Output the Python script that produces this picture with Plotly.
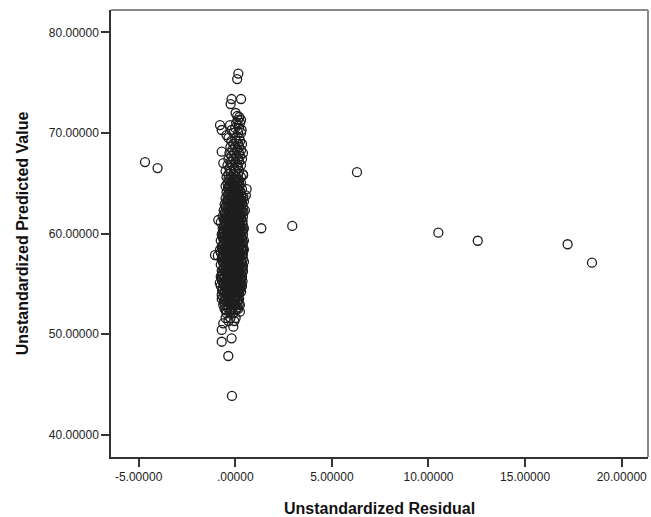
import plotly.graph_objects as go

# Points outside the main vertical band (residual, predicted)
outlier_residual = [-4.67, -4.02, 1.35, 2.95, 6.30, 10.51, 12.55, 17.20, 18.46,
                    -0.17, -0.36, 0.10, 0.16,
                    -0.70, -0.62, 0.41, 0.59, -0.88, -1.05, -0.79, 0.41]
outlier_predicted = [67.10, 66.50, 60.52, 60.75, 66.10, 60.08, 59.28, 58.93, 57.10,
                     43.85, 47.82, 75.35, 75.90,
                     68.13, 67.00, 65.80, 64.42, 61.34, 57.86, 58.36, 58.36]

# Main band: predicted value level -> residuals read at that level
band_levels = [49.24, 49.58, 50.41, 50.74, 51.07, 51.3, 51.6, 52.07, 52.23, 52.5,
               52.9, 53.2, 53.5, 53.89, 54.2, 54.5, 54.8, 55.1, 55.4, 55.7,
               56.0, 56.3, 56.6, 56.9, 57.2, 57.5, 57.8, 58.1, 58.4, 58.7,
               59.0, 59.3, 59.6, 59.9, 60.2, 60.5, 60.8, 61.1, 61.4, 61.7,
               62.0, 62.3, 62.6, 62.9, 63.2, 63.5, 63.8, 64.1, 64.4, 64.7,
               65.0, 65.3, 65.6, 65.9, 66.2, 66.5, 66.8, 67.1, 67.4, 67.7,
               68.0, 68.3, 68.6, 68.9, 69.2, 69.5, 69.79, 70.0, 70.29, 70.5,
               70.78, 71.0, 71.3, 71.58, 71.68, 71.98, 72.87, 73.37]
band_residuals = [
    [-0.70], [-0.19], [-0.70], [-0.10], [-0.62], [-0.35, -0.05], [-0.50, 0.02, -0.25],
    [-0.10, -0.45], [0.24, -0.30], [-0.55, -0.20, 0.05, 0.15],
    [-0.62, 0.24, -0.35, -0.05], [-0.40, -0.15, 0.10, -0.60], [-0.50, -0.25, 0.00, 0.20, -0.70],
    [-0.70, -0.45, 0.00, -0.20, 0.10], [-0.55, -0.30, -0.10, 0.15, 0.30],
    [-0.65, -0.40, -0.15, 0.05, 0.25], [-0.75, -0.50, -0.25, 0.00, 0.20, 0.35],
    [-0.60, -0.35, -0.10, 0.10, 0.30, -0.80], [-0.70, -0.45, -0.20, 0.05, 0.25],
    [-0.55, -0.30, -0.05, 0.15, 0.35, -0.75],
    [-0.65, -0.40, -0.15, 0.10, 0.30], [-0.70, -0.50, -0.25, 0.00, 0.20, 0.40],
    [-0.60, -0.35, -0.10, 0.15, 0.35], [-0.75, -0.45, -0.20, 0.05, 0.25],
    [-0.65, -0.40, -0.15, 0.10, 0.30, 0.45], [-0.70, -0.50, -0.25, 0.00, 0.20, 0.40],
    [-0.90, -0.60, -0.35, -0.10, 0.15, 0.35], [-0.75, -0.50, -0.25, 0.05, 0.25],
    [-0.65, -0.40, -0.15, 0.10, 0.30, 0.45], [-0.70, -0.45, -0.20, 0.00, 0.20, 0.40],
    [-0.60, -0.35, -0.10, 0.15, 0.35], [-0.75, -0.50, -0.25, 0.05, 0.25, 0.45],
    [-0.65, -0.40, -0.15, 0.10, 0.30], [-0.70, -0.45, -0.20, 0.00, 0.20, 0.40],
    [-0.60, -0.35, -0.10, 0.15, 0.35], [-0.65, -0.40, -0.15, 0.05, 0.25, 0.45],
    [-0.55, -0.30, -0.05, 0.20, 0.40], [-0.75, -0.50, -0.25, 0.00, 0.20, 0.35],
    [-0.60, -0.35, -0.10, 0.15, 0.30], [-0.65, -0.40, -0.15, 0.05, 0.25, 0.40],
    [-0.55, -0.30, -0.05, 0.20, 0.35], [-0.60, -0.35, -0.10, 0.10, 0.30, 0.50],
    [-0.50, -0.25, 0.00, 0.20, 0.40], [-0.55, -0.30, -0.05, 0.15, 0.35],
    [-0.45, -0.20, 0.05, 0.25, 0.45], [-0.50, -0.25, 0.00, 0.20, 0.40],
    [-0.40, -0.15, 0.10, 0.30, 0.55], [-0.45, -0.20, 0.05, 0.25],
    [-0.35, -0.10, 0.15, 0.35], [-0.50, -0.25, 0.00, 0.20],
    [-0.40, -0.15, 0.10, 0.30], [-0.30, -0.05, 0.20], [-0.45, -0.20, 0.05, 0.30],
    [-0.35, -0.10, 0.15, 0.40], [-0.50, -0.25, 0.00, 0.20], [-0.30, -0.05, 0.15],
    [-0.40, -0.15, 0.10, 0.30], [-0.25, 0.00, 0.20], [-0.35, -0.10, 0.15, 0.35],
    [-0.20, 0.05, 0.25], [-0.30, -0.05, 0.20, 0.40], [-0.15, 0.10, 0.30],
    [-0.25, 0.00, 0.20], [-0.10, 0.15, 0.35], [-0.20, 0.05, 0.25], [-0.35, 0.00, 0.20],
    [-0.45], [-0.10, 0.15, 0.30], [-0.70, -0.19, 0.33], [0.00, 0.20],
    [-0.79, -0.27], [0.05, 0.25], [0.15, 0.30], [0.21], [0.10], [0.02], [-0.24],
    [-0.19, 0.30],
]

# Dense core of the band (extra cases between the levels above)
core_levels = [52.35, 52.65, 52.95, 53.35, 53.65, 54.05, 54.35, 54.65, 54.95, 55.25,
               55.55, 55.85, 56.15, 56.45, 56.75, 57.05, 57.35, 57.65, 57.95, 58.25,
               58.55, 58.85, 59.15, 59.45, 59.75, 60.05, 60.35, 60.65, 60.95, 61.25,
               61.55, 61.85, 62.15, 62.45, 62.75, 63.05, 63.35, 63.65, 63.95, 64.25,
               64.55, 64.85, 65.15, 65.45]
core_residuals = [
    [-0.48, -0.22, 0.02], [-0.40, -0.12, 0.12], [-0.52, -0.25, 0.02, 0.18],
    [-0.55, -0.30, -0.05, 0.15], [-0.62, -0.35, -0.10, 0.12], [-0.58, -0.32, -0.08, 0.20],
    [-0.68, -0.45, -0.20, 0.05, 0.22], [-0.55, -0.30, -0.05, 0.15, 0.32],
    [-0.62, -0.40, -0.15, 0.08, 0.28], [-0.52, -0.28, -0.02, 0.18, 0.38],
    [-0.62, -0.38, -0.12, 0.10, 0.30], [-0.70, -0.45, -0.22, 0.02, 0.22],
    [-0.55, -0.30, -0.05, 0.18, 0.38], [-0.62, -0.42, -0.18, 0.08, 0.28],
    [-0.52, -0.28, -0.02, 0.20, 0.40], [-0.60, -0.35, -0.10, 0.15, 0.35],
    [-0.55, -0.30, -0.05, 0.12, 0.32], [-0.65, -0.42, -0.18, 0.08, 0.28],
    [-0.52, -0.28, -0.02, 0.20, 0.40], [-0.62, -0.38, -0.12, 0.15, 0.35],
    [-0.55, -0.30, -0.05, 0.12, 0.32], [-0.65, -0.42, -0.18, 0.08, 0.28],
    [-0.52, -0.28, -0.02, 0.20, 0.40], [-0.60, -0.35, -0.10, 0.15, 0.35],
    [-0.55, -0.30, -0.05, 0.12, 0.32], [-0.65, -0.42, -0.18, 0.08, 0.28],
    [-0.52, -0.28, -0.02, 0.20, 0.40], [-0.60, -0.35, -0.10, 0.10, 0.32],
    [-0.48, -0.22, 0.02, 0.25], [-0.55, -0.30, -0.05, 0.18, 0.38],
    [-0.50, -0.25, 0.00, 0.22], [-0.45, -0.20, 0.05, 0.28],
    [-0.52, -0.28, -0.02, 0.22, 0.42], [-0.42, -0.18, 0.08, 0.30],
    [-0.48, -0.22, 0.02, 0.25], [-0.35, -0.10, 0.15, 0.35],
    [-0.38, -0.12, 0.12, 0.32], [-0.30, -0.05, 0.20, 0.42],
    [-0.35, -0.08, 0.18], [-0.28, 0.00, 0.25], [-0.38, -0.12, 0.12],
    [-0.30, -0.05, 0.22], [-0.25, 0.02, 0.18], [-0.35, -0.10, 0.12],
]

x_tick_vals = [-5, 0, 5, 10, 15, 20]
x_tick_text = ["-5.00000", ".00000", "5.00000", "10.00000", "15.00000", "20.00000"]
y_tick_vals = [40, 50, 60, 70, 80]
y_tick_text = ["40.00000", "50.00000", "60.00000", "70.00000", "80.00000"]

residual = list(outlier_residual)
predicted = list(outlier_predicted)
for levels, rows in ((band_levels, band_residuals), (core_levels, core_residuals)):
    for level, xs in zip(levels, rows):
        for xv in xs:
            residual.append(xv)
            predicted.append(level)

font_family = "Liberation Sans, Arial, sans-serif"

fig = go.Figure(go.Scatter(
    x=residual, y=predicted, mode="markers",
    marker=dict(symbol="circle-open", size=9, color="#1e1e1e",
                line=dict(width=1.3, color="#1e1e1e")),
    hoverinfo="skip", showlegend=False,
))

fig.update_layout(
    width=651, height=517,
    margin=dict(l=111, r=3, t=10, b=60),
    paper_bgcolor="white", plot_bgcolor="white",
    font=dict(family=font_family, size=12, color="#222222"),
    xaxis=dict(
        range=[-6.43, 21.36], tickvals=x_tick_vals, ticktext=x_tick_text,
        showgrid=False, zeroline=False, showline=True, linecolor="#333333", linewidth=1.5,
        ticks="outside", ticklen=8, tickwidth=1.5, tickcolor="#333333",
        tickfont=dict(size=12, color="#222222"), ticklabeloverflow="allow",
        title=dict(text="<b>Unstandardized Residual</b>", font=dict(size=16, color="#111111"),
                   standoff=20),
    ),
    yaxis=dict(
        range=[37.78, 82.22], tickvals=y_tick_vals, ticktext=y_tick_text,
        showgrid=False, zeroline=False, showline=True, linecolor="#333333", linewidth=1.5,
        ticks="outside", ticklen=8, tickwidth=1.5, tickcolor="#333333",
        tickfont=dict(size=12, color="#222222"),
        title=dict(text="<b>Unstandardized Predicted Value</b>", font=dict(size=16, color="#111111"),
                   standoff=16),
    ),
    shapes=[
        dict(type="line", xref="paper", yref="paper", x0=0, x1=1, y0=1, y1=1,
             line=dict(color="#8a8a8a", width=2)),
        dict(type="line", xref="paper", yref="paper", x0=1, x1=1, y0=0, y1=1,
             line=dict(color="#8a8a8a", width=2)),
    ],
)

fig.write_html(
    "out.html",
    config={"displayModeBar": False},
    post_script="document.body.style.margin='0';document.body.style.overflow='hidden';",
)
